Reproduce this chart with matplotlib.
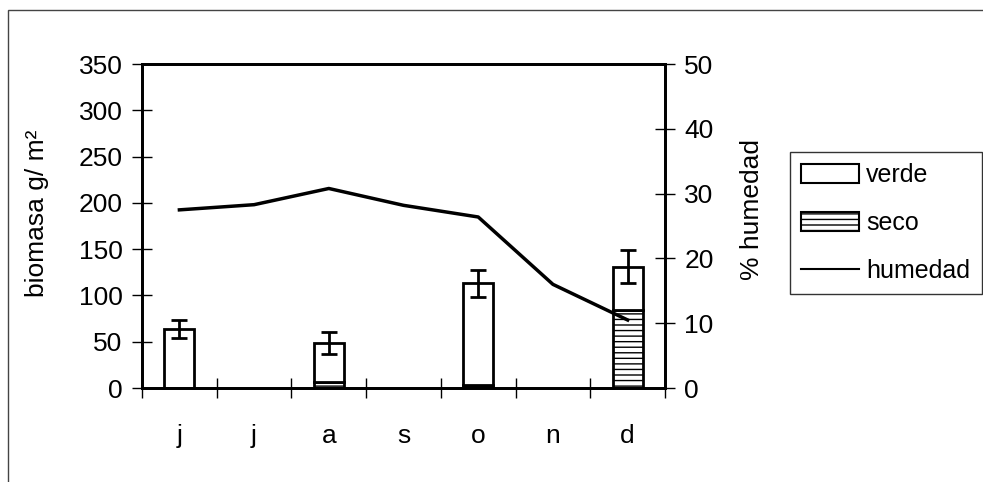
import numpy as np
import matplotlib
matplotlib.use("Agg")
import matplotlib.pyplot as plt
from matplotlib.patches import Rectangle, Patch
from matplotlib.lines import Line2D

plt.rcParams['font.family'] = ['Liberation Sans', 'DejaVu Sans']

meses = ['j', 'j', 'a', 's', 'o', 'n', 'd']
verde = [64, np.nan, 43, np.nan, 110, np.nan, 47]
seco = [0, np.nan, 6, np.nan, 3, np.nan, 84]
error = [10, np.nan, 12, np.nan, 15, np.nan, 18]
humedad = [27.5, 28.3, 30.8, 28.2, 26.4, 16.0, 10.5]

x = np.arange(len(meses))
total = np.array(verde) + np.array(seco)
fs = 19

fig = plt.figure(figsize=(9.83, 4.82), dpi=100)
ax = fig.add_axes([0.1445, 0.195, 0.532, 0.672])
ax2 = ax.twinx()

# outer frame of the chart area
fig.patches.append(Rectangle((8 / 983, -0.5), 2, 1.5 - 10 / 482, transform=fig.transFigure,
                             fill=False, edgecolor='#444444', linewidth=1))

ax.bar(x, seco, width=0.4, color='white', edgecolor='black', linewidth=2, hatch='---')
ax.bar(x, verde, bottom=seco, width=0.4, color='white', edgecolor='black', linewidth=2)
ax.errorbar(x, total, yerr=error, fmt='none', ecolor='black', elinewidth=2, capsize=6, capthick=2)

ax2.plot(x, humedad, color='black', linewidth=2.5)

ax.set_xlim(-0.5, len(meses) - 0.5)
ax.set_ylim(0, 350)
ax.set_yticks(range(0, 351, 50))
ax2.set_ylim(0, 50)
ax2.set_yticks(range(0, 51, 10))

ax.set_xticks(np.arange(-0.5, len(meses), 1))
ax.set_xticklabels([])
ax.set_xticks(x, minor=True)
ax.set_xticklabels(meses, minor=True, fontsize=fs)
ax.tick_params(axis='x', which='minor', length=0, pad=26)
ax.tick_params(axis='x', which='major', direction='inout', length=14, width=1)
ax.tick_params(axis='y', direction='inout', length=14, width=1, labelsize=fs, pad=7)
ax2.tick_params(axis='y', direction='inout', length=14, width=1, labelsize=fs, pad=7)

for a in (ax, ax2):
    for s in a.spines.values():
        s.set_linewidth(2)

ax.set_ylabel('biomasa g/ m²', fontsize=fs)
ax.yaxis.set_label_coords(-0.178, 0.54)
ax2.set_ylabel('% humedad', fontsize=fs)
ax2.yaxis.set_label_coords(1.143, 0.55)

handles = [Patch(facecolor='white', edgecolor='black', linewidth=1.5),
           Patch(facecolor='white', edgecolor='black', linewidth=1.5, hatch='---'),
           Line2D([], [], color='black', linewidth=1.5)]
leg = fig.legend(handles, ['verde', 'seco', 'humedad'], loc='upper left',
                 bbox_to_anchor=(0.8037, 0.6846), fontsize=18, frameon=True,
                 fancybox=False, edgecolor='black', handlelength=2.3, handleheight=0.8,
                 handletextpad=0.3, labelspacing=0.95, borderpad=0.45, borderaxespad=0)
leg.get_frame().set_linewidth(1)

fig.savefig('out.png', dpi=100, facecolor='white')
